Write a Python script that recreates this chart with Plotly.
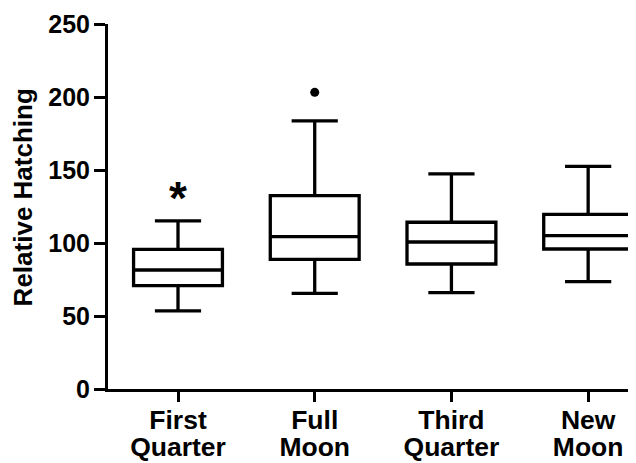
import plotly.graph_objects as go

categories = ["First Quarter", "Full Moon", "Third Quarter", "New Moon"]
label_line1 = ["First", "Full", "Third", "New"]
label_line2 = ["Quarter", "Moon", "Quarter", "Moon"]
lower_whisker = [53.5, 65.5, 66.0, 73.5]
q1_values = [70.8, 88.8, 85.6, 95.9]
medians = [81.5, 104.3, 100.7, 105.0]
q3_values = [95.7, 132.4, 114.2, 119.6]
upper_whisker = [115.1, 183.6, 147.3, 152.5]

outlier_category = ["Full Moon"]
outlier_values = [203.2]

significance_category = ["First Quarter"]
significance_values = [128.0]
significance_text = ["*"]

y_ticks = [0, 50, 100, 150, 200, 250]

FONT = "Arial, Liberation Sans, Helvetica, sans-serif"
X_RANGE = [-0.512, 3.35]
LABEL_SIZE = 26.5

fig = go.Figure()
fig.add_trace(go.Box(
    x=categories,
    lowerfence=lower_whisker,
    q1=q1_values,
    median=medians,
    q3=q3_values,
    upperfence=upper_whisker,
    width=0.65,
    whiskerwidth=0.52,
    fillcolor="rgba(0,0,0,0)",
    line=dict(color="black", width=3.3),
    boxpoints=False,
    showlegend=False,
    hoverinfo="skip",
))
fig.add_trace(go.Scatter(
    x=outlier_category, y=outlier_values, mode="markers",
    marker=dict(color="black", size=9, symbol="circle"),
    showlegend=False,
))
fig.add_trace(go.Scatter(
    x=significance_category, y=significance_values, mode="text",
    text=significance_text, textposition="middle center",
    textfont=dict(family=FONT, size=46, color="black", weight="bold"),
    showlegend=False,
))
# invisible carrier trace so the second-line label axis is drawn
fig.add_trace(go.Scatter(
    x=list(range(len(categories))), y=medians, xaxis="x2", yaxis="y",
    mode="markers", marker=dict(opacity=0), hoverinfo="skip",
    showlegend=False,
))

# page body has an 8px margin, so the figure is sized to end at the window edge
fig.update_layout(
    width=628, height=455,
    margin=dict(l=100, r=0, t=16, b=74),
    paper_bgcolor="white", plot_bgcolor="white",
    font=dict(family=FONT, color="black", size=25, weight="bold"),
    showlegend=False,
    xaxis=dict(
        type="category", range=X_RANGE,
        categoryorder="array", categoryarray=categories,
        tickmode="array", tickvals=categories, ticktext=label_line1,
        showline=True, linecolor="black", linewidth=3,
        ticks="outside", ticklen=10, tickwidth=3, tickcolor="black",
        ticklabelstandoff=-5,
        tickfont=dict(family=FONT, size=LABEL_SIZE, color="black", weight="bold"),
        showgrid=False, zeroline=False,
    ),
    xaxis2=dict(
        overlaying="x", anchor="y", side="bottom",
        type="linear", range=X_RANGE,
        tickmode="array", tickvals=list(range(len(categories))), ticktext=label_line2,
        showline=False, ticks="outside", ticklen=10, tickwidth=3,
        tickcolor="rgba(0,0,0,0)",
        ticklabelstandoff=24,
        tickfont=dict(family=FONT, size=LABEL_SIZE, color="black", weight="bold"),
        showgrid=False, zeroline=False,
    ),
    yaxis=dict(
        range=[0, 250], tickvals=y_ticks,
        showline=True, linecolor="black", linewidth=3,
        ticks="outside", ticklen=11, tickwidth=3, tickcolor="black",
        ticklabelstandoff=-1,
        tickfont=dict(family=FONT, size=25, color="black", weight="bold"),
        showgrid=False, zeroline=False,
    ),
)
fig.add_annotation(
    text="Relative Hatching", textangle=-90,
    xref="paper", yref="paper", x=0, y=0.525,
    xanchor="center", yanchor="middle", xshift=-85,
    showarrow=False,
    font=dict(family=FONT, size=26, color="black", weight="bold"),
)

fig.write_html("out.html")
